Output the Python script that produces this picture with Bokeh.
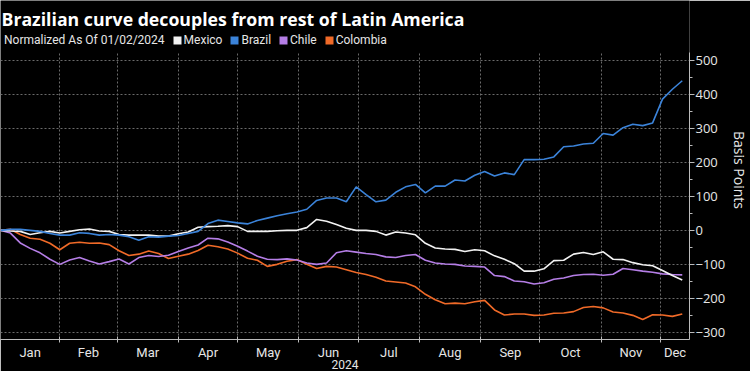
import pandas as pd
from bokeh.plotting import figure
from bokeh.models import (ColumnDataSource, FixedTicker, Legend, LegendItem, Grid, Label,
                          DatetimeTickFormatter, Range1d, LinearAxis, DatetimeAxis)
from bokeh.embed import file_html
from bokeh.resources import INLINE

# ---------------- data (basis points, normalized as of 01/02/2024) ----------------
dates = pd.date_range("2024-01-02", periods=70, freq="5D")

mexico = [0, -2, -3, -12, -7, -3, -8, -3, 2, 4,
          -2, -3, -12, -14, -14, -14, -17, -17, -10, -5,
          9, 11, 12, 14, 11, -3, -3, -3, -1, 0,
          0, 8, 32, 27, 17, 6, 0, 0, -3, -14,
          -5, -8, -13, -38, -52, -55, -56, -62, -57, -60,
          -75, -85, -98, -120, -120, -113, -89, -88, -70, -65,
          -71, -63, -85, -86, -95, -101, -104, -118, -133, -146]

brazil = [0, 3, 3, 0, -3, -9, -14, -14, -7, -9,
          -14, -12, -14, -19, -29, -19, -20, -17, -15, -9,
          -3, 20, 30, 26, 22, 19, 29, 36, 43, 49,
          54, 62, 88, 95, 95, 84, 128, 105, 84, 89,
          112, 128, 135, 110, 130, 130, 148, 145, 162, 173,
          160, 169, 164, 208, 208, 209, 216, 246, 248, 254,
          256, 285, 280, 302, 312, 308, 316, 386, 415, 440]

chile = [0, -8, -37, -53, -66, -85, -100, -87, -80, -90,
         -99, -92, -84, -99, -80, -74, -77, -73, -62, -52,
         -43, -23, -25, -34, -47, -61, -76, -85, -86, -84,
         -87, -96, -100, -96, -66, -60, -64, -68, -71, -78,
         -80, -74, -71, -88, -96, -99, -100, -105, -106, -108,
         -133, -136, -149, -151, -158, -154, -144, -140, -133, -130,
         -129, -132, -129, -112, -116, -120, -123, -128, -130, -131]

colombia = [0, 3, -12, -23, -26, -38, -57, -38, -35, -38,
            -37, -42, -60, -74, -70, -61, -68, -83, -76, -70,
            -59, -44, -48, -55, -67, -82, -88, -106, -100, -91,
            -86, -100, -112, -106, -108, -116, -124, -130, -138, -149,
            -152, -155, -166, -188, -204, -216, -214, -216, -210, -206,
            -234, -249, -246, -246, -250, -249, -244, -243, -239, -227,
            -224, -228, -240, -243, -250, -262, -248, -249, -253, -246]

series_names = ["Mexico", "Brazil", "Chile", "Colombia"]
series_colors = ["#f2f2f2", "#3b83d9", "#b57ee6", "#f06a28"]

y_ticks = [-300, -200, -100, 0, 100, 200, 300, 400, 500]
y_minor = [-350, -250, -150, -50, 50, 150, 250, 350, 450]

title_text = "Brazilian curve decouples from rest of Latin America"
note_text = "Normalized As Of 01/02/2024"
year_text = "2024"
y_label_text = "Basis Points"

# ---------------- axis positions ----------------
x_start = pd.Timestamp("2024-01-02")
x_end = pd.Timestamp("2024-12-15 16:00")
month_starts = pd.date_range("2024-01-01", "2024-12-01", freq="MS")
Y_LO, Y_HI_PLOT, Y_HI_FRAME = -321, 522, 676


def ms(ts):
    return ts.value // 10**6


bounds = list(month_starts) + [x_end]
month_mids = [ms(max(bounds[i], x_start) + (bounds[i + 1] - max(bounds[i], x_start)) / 2)
              for i in range(12)]
month_start_ms = [ms(t) for t in month_starts]

SMALL_FONT = "Roboto"
TXT = "#e6e6e6"
FRAME_W, FRAME_H = 689, 339

p = figure(frame_width=FRAME_W, frame_height=FRAME_H, x_axis_type=None, y_axis_type=None,
           x_range=Range1d(x_start, x_end), y_range=Range1d(Y_LO, Y_HI_FRAME),
           output_backend="svg", toolbar_location=None,
           min_border_left=0, min_border_top=0, min_border_bottom=0, min_border_right=0,
           background_fill_color="black", border_fill_color="black",
           outline_line_color=None)

# axes
xaxis = DatetimeAxis(ticker=FixedTicker(ticks=month_mids, minor_ticks=month_start_ms),
                     formatter=DatetimeTickFormatter(days="%b", months="%b", years="%b"))
xaxis.major_tick_line_color = None
xaxis.major_tick_in = 0
xaxis.major_tick_out = 0
xaxis.minor_tick_in = 3
xaxis.minor_tick_out = 3
xaxis.minor_tick_line_color = "#bbbbbb"
xaxis.axis_line_color = "#bbbbbb"
xaxis.major_label_text_color = TXT
xaxis.major_label_text_font = SMALL_FONT
xaxis.major_label_text_font_size = "13px"
xaxis.major_label_standoff = 2
xaxis.axis_label = year_text
xaxis.axis_label_text_font = SMALL_FONT
xaxis.axis_label_text_font_style = "normal"
xaxis.axis_label_text_font_size = "12px"
xaxis.axis_label_text_color = TXT
xaxis.axis_label_standoff = -3
p.add_layout(xaxis, "below")

yaxis = LinearAxis(ticker=FixedTicker(ticks=y_ticks, minor_ticks=y_minor),
                   bounds=(Y_LO, Y_HI_PLOT))
yaxis.axis_line_color = "#bbbbbb"
yaxis.major_tick_line_color = "#bbbbbb"
yaxis.minor_tick_line_color = "#bbbbbb"
yaxis.major_tick_in = 0
yaxis.major_tick_out = 5
yaxis.minor_tick_in = 0
yaxis.minor_tick_out = 3
yaxis.major_label_text_color = TXT
yaxis.major_label_text_font = "Open Sans"
yaxis.major_label_text_font_size = "13px"
yaxis.major_label_standoff = 1
yaxis.axis_label = y_label_text
yaxis.axis_label_text_font = "Open Sans"
yaxis.axis_label_text_font_style = "normal"
yaxis.axis_label_text_font_size = "14px"
yaxis.axis_label_text_color = TXT
yaxis.axis_label_standoff = 2
p.add_layout(yaxis, "right")

# grids
GRID_COLOR = "#6a6a6a"
ygrid = Grid(dimension=1, ticker=FixedTicker(ticks=y_ticks),
             grid_line_color=GRID_COLOR, grid_line_dash="2 2")
p.add_layout(ygrid)
xgrid = Grid(dimension=0, ticker=FixedTicker(ticks=month_start_ms),
             grid_line_color=GRID_COLOR, grid_line_dash="2 2")
try:
    xgrid.cross_bounds = (Y_LO, Y_HI_PLOT)
    p.add_layout(xgrid)
except AttributeError:
    p.segment(x0=list(month_starts), x1=list(month_starts),
              y0=[Y_LO] * len(month_starts), y1=[Y_HI_PLOT] * len(month_starts),
              line_color=GRID_COLOR, line_dash="2 2", line_width=1)

# lines
src = ColumnDataSource(dict(date=dates, Mexico=mexico, Brazil=brazil,
                            Chile=chile, Colombia=colombia))
draw_order = ["Colombia", "Chile", "Mexico", "Brazil"]
for name in draw_order:
    c = series_colors[series_names.index(name)]
    p.line("date", name, source=src, line_color=c, line_width=1.6)

# legend swatches: zero-area quads at the shared first point (invisible in plot)
swatch_src = ColumnDataSource(dict(left=[dates[0]], right=[dates[0]],
                                   top=[mexico[0]], bottom=[mexico[0]]))
blank = p.quad(left="left", right="right", top="top", bottom="bottom", source=swatch_src,
               fill_alpha=0, line_alpha=0)
items = [LegendItem(label=note_text, renderers=[blank])]
for name, c in zip(series_names, series_colors):
    r = p.quad(left="left", right="right", top="top", bottom="bottom", source=swatch_src,
               fill_color=c, line_color=None)
    items.append(LegendItem(label=name, renderers=[r]))

legend = Legend(items=items, orientation="horizontal", location=(-8, FRAME_H - 48),
                glyph_width=10, glyph_height=10, label_standoff=2, spacing=7,
                padding=0, margin=0, label_height=16,
                label_text_font=SMALL_FONT, label_text_font_size="12px",
                label_text_color=TXT, background_fill_alpha=0,
                border_line_color=None)
p.add_layout(legend, "center")

# title inside the top band of the frame
p.add_layout(Label(x=1, y=FRAME_H - 18, x_units="screen", y_units="screen",
                   text=title_text, text_font="Open Sans", text_font_style="bold",
                   text_font_size="17.7px", text_color="white", text_baseline="middle"))

open("out.html", "w").write(file_html(p, INLINE))
